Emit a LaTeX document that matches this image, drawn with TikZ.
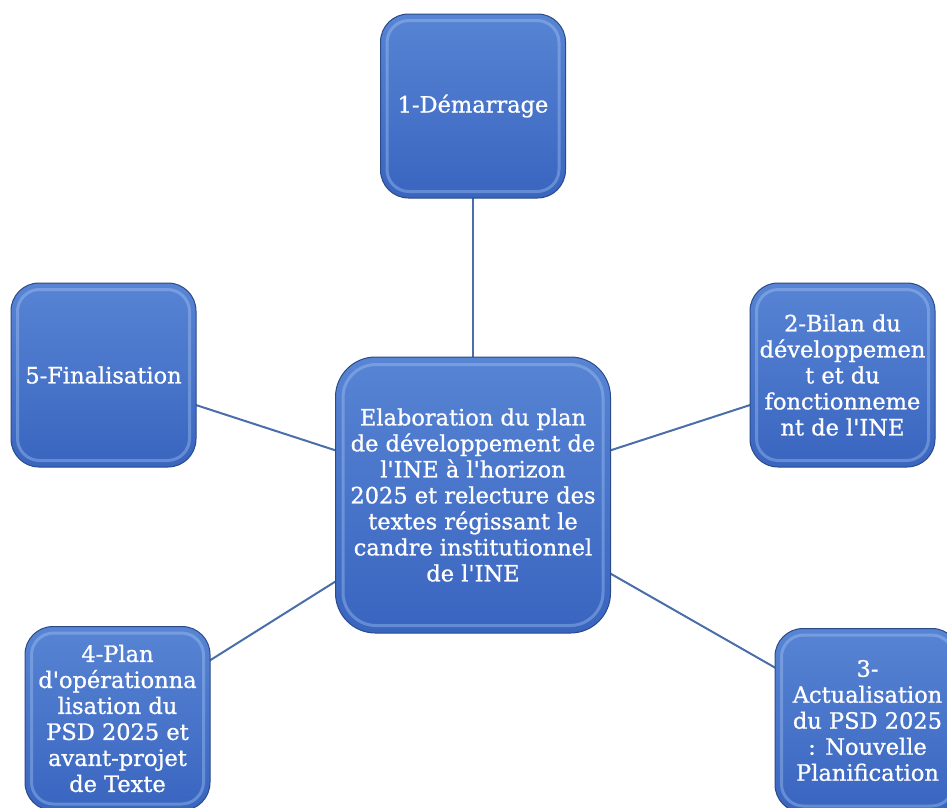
\documentclass[tikz,border=0pt]{standalone}
\usepackage{fontspec}
\setmainfont{DejaVu Serif}
\newfontfamily\boxfont{DejaVu Serif}[FakeBold=0.9]
\newcommand{\sq}{{\char"27}}
\begin{document}
\begin{tikzpicture}[x=1pt,y=1pt,
  box/.style={rectangle, rounded corners=28pt, minimum width=185pt, minimum height=184pt,
    top color=boxtop, bottom color=boxbot, draw=boxedge, line width=1pt,
    text=white, align=center, inner sep=2pt,
    font=\boxfont\fontsize{22.5}{26}\selectfont},
  bigbox/.style={box, rounded corners=40pt, minimum width=275pt, minimum height=276pt},
  bevel/.style={draw=bevelc, line width=3pt, opacity=0.4},
  link/.style={draw=linkc, line width=2pt}]
\definecolor{boxtop}{HTML}{5884D4}
\definecolor{boxbot}{HTML}{3965C0}
\definecolor{boxedge}{HTML}{2A4B88}
\definecolor{bevelc}{HTML}{A5C6F2}
\definecolor{linkc}{HTML}{4A6EA9}
\useasboundingbox (0,0) rectangle (947,-807);
\clip (0,0) rectangle (947,-807);
% connectors (drawn below the boxes)
\coordinate (cc) at (473,-495);
\coordinate (p1) at (473,-106);
\coordinate (p2) at (842.5,-375);
\coordinate (p3) at (867.5,-720.5);
\coordinate (p4) at (117.5,-718.5);
\coordinate (p5) at (103.5,-375);
\foreach \p in {p1,p2,p3,p4,p5} \draw[link] (cc) -- (\p);
% boxes
\node[box] (n1) at (p1) {1-Démarrage};
\node[box] (n2) at (p2) {2-Bilan du\\développemen\\t et du\\fonctionneme\\nt de l\sq INE};
\node[box] (n3) at (p3) {3-\\Actualisation\\du PSD 2025\\: Nouvelle\\Planification};
\node[box] (n4) at (p4) {4-Plan\\d\sq opérationna\\lisation du\\PSD 2025 et\\avant-projet\\de Texte};
\node[box] (n5) at (p5) {5-Finalisation};
\node[bigbox] (c) at (cc) {Elaboration du plan\\de développement de\\l\sq INE à l\sq horizon\\2025 et relecture des\\textes régissant le\\candre institutionnel\\de l\sq INE};
% inner bevel highlights
\foreach \n in {n1,n2,n3,n4,n5}
  \draw[bevel, rounded corners=22pt] ([shift={(7pt,-7pt)}]\n.north west) rectangle ([shift={(-7pt,7pt)}]\n.south east);
\draw[bevel, rounded corners=33pt] ([shift={(8pt,-8pt)}]c.north west) rectangle ([shift={(-8pt,8pt)}]c.south east);
\end{tikzpicture}
\end{document}
